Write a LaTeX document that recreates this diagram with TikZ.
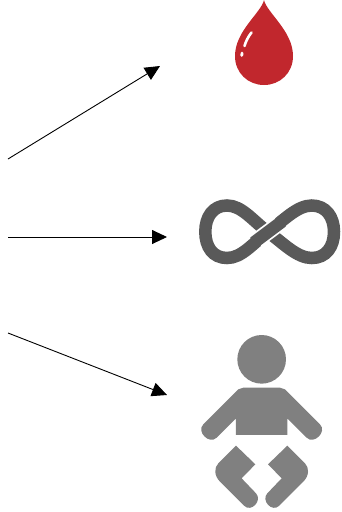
\documentclass[tikz,border=0pt]{standalone}
\usetikzlibrary{arrows.meta}
\definecolor{dropred}{HTML}{C1272D}
\definecolor{loopgrey}{HTML}{595959}
\definecolor{babygrey}{HTML}{808080}
\tikzset{
    link/.style={draw=black,line width=0.9pt,-{Triangle[length=15pt,width=14pt]}},
    loopline/.style={draw=loopgrey,line width=12.5pt}
}
\def\LegShape{
    \fill[babygrey] (138,362) -- (196,418) -- (155,460) -- (198,505)
        .. controls (218,526) and (184,564) .. (162,542) -- (90,470)
        .. controls (72,452) and (72,428) .. (85,415) -- cycle;
}
\begin{document}
\begin{tikzpicture}[x=1pt,y=-1pt]
    \useasboundingbox (0,0) rectangle (341,512);
    % arrows
    \coordinate (startA) at (8,159);
    \coordinate (startB) at (8,237);
    \coordinate (startC) at (8,333);
    \coordinate (drop) at (160,66);
    \coordinate (loop) at (167,237);
    \coordinate (baby) at (167,395);
    \draw[link] (startA) -- (drop);
    \draw[link] (startB) -- (loop);
    \draw[link] (startC) -- (baby);
    % drop
    \fill[dropred] (264,0) .. controls (261,13) and (235,31) .. (235,56)
        .. controls (235,73) and (248,85) .. (264,85)
        .. controls (280,85) and (293,73) .. (293,56)
        .. controls (293,31) and (267,13) .. (264,0) -- cycle;
    \draw[white,line width=2.6pt,line cap=round] (251.5,32.5) .. controls (248,37) and (246,41) .. (244.5,46);
    \draw[white,line width=2.8pt,line cap=round] (242,53) -- (241.8,55.5);
    % infinity
    \draw[loopline] (268,232) .. controls (253,221) and (242,205.5) .. (227,205.5)
        .. controls (213,205.5) and (205.3,217) .. (205.3,231.7)
        .. controls (205.3,247) and (213,258) .. (227,258)
        .. controls (242,258) and (253,243) .. (268,232)
        .. controls (283,221) and (297,205.5) .. (311.7,205.5)
        .. controls (326,205.5) and (334,217) .. (334,231.7)
        .. controls (334,247) and (326,258) .. (311.7,258)
        .. controls (297,258) and (283,243) .. (268,232) -- cycle;
    \draw[white,line width=16pt] (257,240.2) -- (279,223.8);
    \draw[loopline] (254,242.5) -- (282,221.5);
    % baby
    \begin{scope}[shift={(190,325)},scale=0.3333]
        \fill[babygrey] (215,103) circle (73);
        \fill[babygrey] (138,330) -- (292,330) -- (292,280) -- (350,338)
            .. controls (372,360) and (412,320) .. (390,298) -- (285,193)
            .. controls (280,189) and (276,188) .. (270,188) -- (160,188)
            .. controls (154,188) and (150,189) .. (145,193) -- (40,298)
            .. controls (18,320) and (58,360) .. (80,338) -- (138,280) -- cycle;
        \LegShape
    \end{scope}
    \begin{scope}[shift={(333.33,325)},xscale=-0.3333,yscale=0.3333]
        \LegShape
    \end{scope}
\end{tikzpicture}
\end{document}
